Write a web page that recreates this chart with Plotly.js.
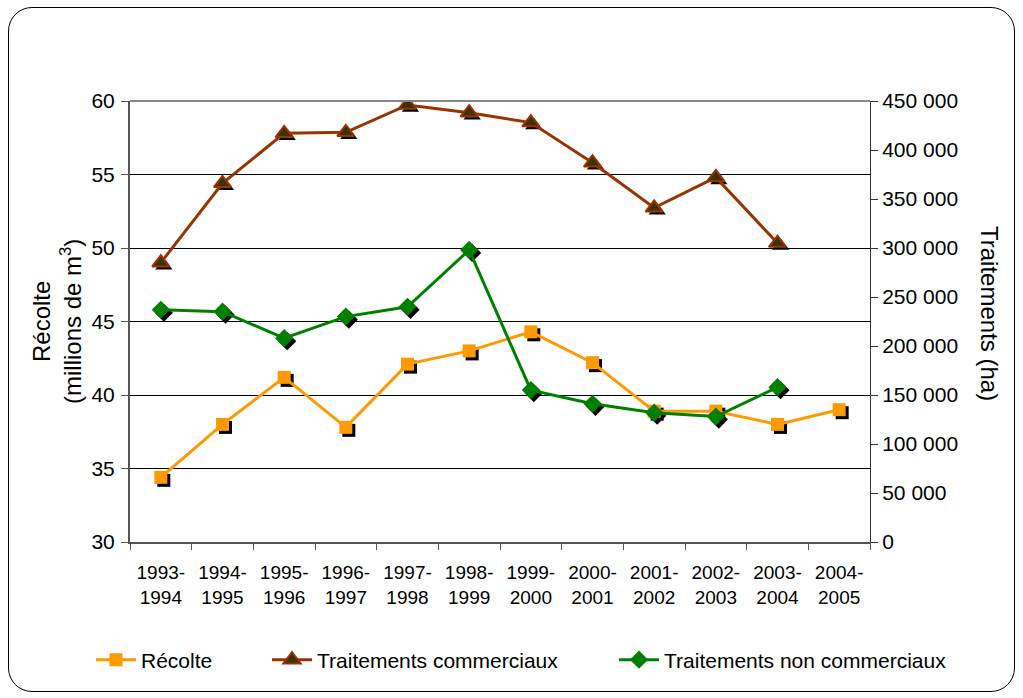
<!DOCTYPE html>
<html><head><meta charset="utf-8">
<script src="https://cdn.plot.ly/plotly-3.0.1.min.js"></script>
<style>
html,body{margin:0;padding:0;background:#fff;}
#frame{position:absolute;left:8px;top:7px;width:1007px;height:685px;border:1px solid #000;border-radius:24px;box-sizing:border-box;}
#chart{position:absolute;left:0;top:0;width:1023px;height:698px;}
</style></head><body>
<div id="frame"></div><div id="chart"></div>
<script>
const categories = ['1993-<br>1994','1994-<br>1995','1995-<br>1996','1996-<br>1997','1997-<br>1998','1998-<br>1999','1999-<br>2000','2000-<br>2001','2001-<br>2002','2002-<br>2003','2003-<br>2004','2004-<br>2005'];
const recolte = [34.4, 38.0, 41.2, 37.8, 42.1, 43.0, 44.3, 42.2, 38.9, 38.9, 38.0, 39.0];
const traitCommerciaux = [285000, 366000, 417000, 418000, 446000, 438000, 428000, 387000, 341000, 372000, 305000, null];
const traitNonCommerciaux = [237000, 235000, 208000, 230000, 240000, 298000, 155000, 141000, 132000, 128000, 158000, null];
const leftTicks = [30, 35, 40, 45, 50, 55, 60];
const rightTicks = [0, 50000, 100000, 150000, 200000, 250000, 300000, 350000, 400000, 450000];
const seriesNames = ['Récolte', 'Traitements commerciaux', 'Traitements non commerciaux'];

const W = 1023, H = 698;
const M = {l: 130, r: 153, t: 101, b: 156};
const plotW = W - M.l - M.r, plotH = H - M.t - M.b;
const shadowPx = 3;
const nCat = categories.length;
const dx = shadowPx / (plotW / nCat);
const leftRange = [30, 60], rightRange = [0, 450000];
const dyL = shadowPx * (leftRange[1] - leftRange[0]) / plotH;
const dyR = shadowPx * (rightRange[1] - rightRange[0]) / plotH;

const FONT = 'Liberation Sans, Arial, sans-serif';
const C_REC = '#FF9900', C_COM = '#993300', C_NON = '#008000';

const traces = [
  {x: categories, y: recolte, xaxis: 'x', yaxis: 'y', mode: 'markers', showlegend: false, hoverinfo: 'skip',
   marker: {symbol: 'square', size: 13, color: '#000'}},
  {x: categories, y: traitCommerciaux, xaxis: 'x', yaxis: 'y2', mode: 'markers', showlegend: false, hoverinfo: 'skip',
   marker: {symbol: 'triangle-up', size: 15, color: '#000'}},
  {x: categories, y: traitNonCommerciaux, xaxis: 'x', yaxis: 'y2', mode: 'markers', showlegend: false, hoverinfo: 'skip',
   marker: {symbol: 'diamond', size: 14, color: '#000'}},
  {x: categories, y: recolte, xaxis: 'x3', yaxis: 'y3', name: seriesNames[0], mode: 'lines+markers', legend: 'legend',
   line: {color: C_REC, width: 3}, marker: {symbol: 'square', size: 13, color: C_REC}},
  {x: categories, y: traitCommerciaux, xaxis: 'x3', yaxis: 'y4', name: seriesNames[1], mode: 'lines+markers', legend: 'legend2',
   line: {color: C_COM, width: 3}, marker: {symbol: 'triangle-up', size: 15, color: '#3a3300', line: {color: C_COM, width: 2}}},
  {x: categories, y: traitNonCommerciaux, xaxis: 'x3', yaxis: 'y4', name: seriesNames[2], mode: 'lines+markers', legend: 'legend3',
   line: {color: C_NON, width: 3}, marker: {symbol: 'diamond', size: 14, color: C_NON}}
];

const xTickFont = {family: FONT, size: 19, color: '#000'};
const yTickFont = {family: FONT, size: 21, color: '#000'};
const legFont = {family: FONT, size: 21, color: '#000'};
const legY = -(660 - (H - M.b)) / plotH;
function px2x(p) { return (p - M.l) / plotW; }
const legBase = {orientation: 'h', xanchor: 'left', yanchor: 'middle', font: legFont, bgcolor: 'rgba(0,0,0,0)', itemwidth: 40};

const layout = {
  width: W, height: H,
  margin: M,
  paper_bgcolor: 'rgba(0,0,0,0)', plot_bgcolor: '#fff',
  separators: ', ',
  font: {family: FONT, color: '#000'},
  xaxis: {type: 'category', range: [-0.5 - dx, nCat - 0.5 - dx], visible: false, fixedrange: true},
  yaxis: {range: [leftRange[0] + dyL, leftRange[1] + dyL], visible: false, fixedrange: true},
  yaxis2: {range: [rightRange[0] + dyR, rightRange[1] + dyR], visible: false, overlaying: 'y', fixedrange: true},
  xaxis3: {type: 'category', overlaying: 'x', anchor: 'y3', range: [-0.5, nCat - 0.5],
    showline: true, linecolor: '#555', linewidth: 2, mirror: false,
    ticks: 'outside', tickson: 'boundaries', ticklen: 6, tickcolor: '#555', tickwidth: 1,
    ticklabelstandoff: 12,
    tickfont: xTickFont, showgrid: false, fixedrange: true},
  yaxis3: {overlaying: 'y', anchor: 'x3', side: 'left', range: leftRange, tickvals: leftTicks,
    showline: true, linecolor: '#555', linewidth: 2, ticks: 'outside', ticklen: 7, tickcolor: '#555',
    ticklabelstandoff: 2,
    showgrid: true, gridcolor: '#000', gridwidth: 1, tickfont: yTickFont, zeroline: false, fixedrange: true},
  yaxis4: {overlaying: 'y', anchor: 'x3', side: 'right', range: rightRange, tickvals: rightTicks,
    tickformat: ',.0f',
    showline: true, linecolor: '#333', linewidth: 1, ticks: 'outside', ticklen: 7, tickcolor: '#333',
    showgrid: false, tickfont: yTickFont, zeroline: false, fixedrange: true},
  shapes: [
    {type: 'line', xref: 'paper', yref: 'paper', x0: 0, x1: 1, y0: 1, y1: 1, line: {color: '#888', width: 2}}
  ],
  legend: Object.assign({}, legBase, {x: px2x(91), y: legY}),
  legend2: Object.assign({}, legBase, {x: px2x(267), y: legY}),
  legend3: Object.assign({}, legBase, {x: px2x(614), y: legY}),
  annotations: [
    {text: 'Récolte<br>(millions de m<sup>3</sup>)', xref: 'paper', yref: 'paper', x: px2x(57), y: (H - M.b - 322) / plotH,
     textangle: -90, showarrow: false, xanchor: 'center', yanchor: 'middle', font: {family: FONT, size: 24, color: '#000'}},
    {text: 'Traitements (ha)', xref: 'paper', yref: 'paper', x: px2x(990), y: (H - M.b - 314) / plotH,
     textangle: 90, showarrow: false, xanchor: 'center', yanchor: 'middle', font: {family: FONT, size: 24, color: '#000'}}
  ],
  hovermode: false
};

Plotly.newPlot('chart', traces, layout, {displayModeBar: false, staticPlot: true});
</script>
</body></html>
